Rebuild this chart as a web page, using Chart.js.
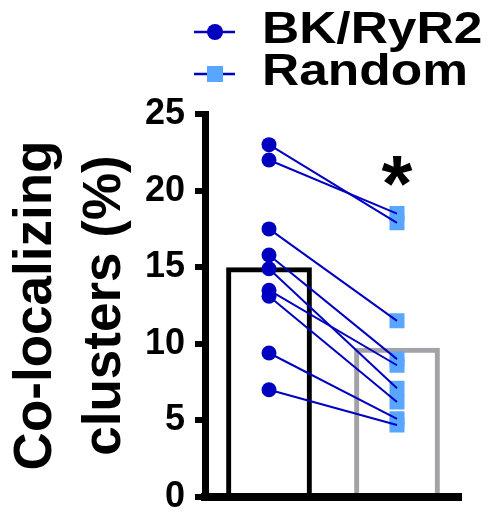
<!DOCTYPE html>
<html>
<head>
<meta charset="utf-8">
<script src="https://cdn.jsdelivr.net/npm/chart.js@4.4.0/dist/chart.umd.min.js"></script>
<style>
  html, body { margin: 0; padding: 0; background: #fff; }
</style>
</head>
<body>
<canvas id="chart" width="492" height="515"></canvas>
<script>
// ---------------- data ----------------
var groups = ['BK/RyR2', 'Random'];
var barMeans = [15.0, 9.75];
// paired cells: bkValues[i] is joined to randomValues[i]
var bkValues = [23.0, 22.0, 17.5, 15.8, 14.9, 13.5, 13.1, 9.4, 7.0];
var randomValues = [17.9, 18.5, 11.5, 9.0, 7.1, 8.6, 6.2, 5.1, 4.7];
var yTicks = [0, 5, 10, 15, 20, 25];
var yTitle = ['Co-localizing', 'clusters (%)'];
var sigMark = '*';
var sigLevel = 21.3;

// ---------------- styles ----------------
var FONT = '"Liberation Sans", Arial, Helvetica, sans-serif';
var DARK_BLUE = '#0000c0';
var LIGHT_BLUE = '#58a6ff';
var GREY = '#a3a3a7';

var datasets = [];

datasets.push({
  type: 'bar',
  label: 'mean',
  data: barMeans,
  backgroundColor: 'rgba(255,255,255,0)',
  borderColor: ['#000000', GREY],
  borderWidth: 5,
  borderSkipped: 'bottom',
  barPercentage: 0.67,
  categoryPercentage: 1,
  order: 4
});

// one line per pair
for (var i = 0; i < bkValues.length; i++) {
  datasets.push({
    type: 'line',
    label: 'pair' + i,
    data: [{x: groups[0], y: bkValues[i]}, {x: groups[1], y: randomValues[i]}],
    borderColor: DARK_BLUE,
    borderWidth: 2,
    pointRadius: 0,
    fill: false,
    order: 2
  });
}

datasets.push({
  type: 'line',
  label: groups[1],
  data: randomValues.map(function(v) { return {x: groups[1], y: v}; }),
  showLine: false,
  pointStyle: 'rect',
  pointRadius: 10.6,
  pointBackgroundColor: LIGHT_BLUE,
  pointBorderWidth: 0,
  order: 3
});

datasets.push({
  type: 'line',
  label: groups[0],
  data: bkValues.map(function(v) { return {x: groups[0], y: v}; }),
  showLine: false,
  pointStyle: 'circle',
  pointRadius: 7.5,
  pointBackgroundColor: DARK_BLUE,
  pointBorderWidth: 0,
  order: 1
});

// legend + star, drawn on top
var extras = {
  id: 'extras',
  afterDraw: function(chart) {
    var ctx = chart.ctx;
    var xs = chart.scales.x, ys = chart.scales.y;

    // significance star
    ctx.save();
    ctx.fillStyle = '#000';
    ctx.font = 'bold 100px ' + FONT;
    var m = ctx.measureText(sigMark);
    var w = m.actualBoundingBoxLeft + m.actualBoundingBoxRight;
    var size = 100 * 31 / w;
    ctx.font = 'bold ' + size + 'px ' + FONT;
    m = ctx.measureText(sigMark);
    var cx = xs.getPixelForValue(1), cy = ys.getPixelForValue(sigLevel);
    var gx = cx - (m.actualBoundingBoxRight - m.actualBoundingBoxLeft) / 2;
    var gy = cy + (m.actualBoundingBoxAscent - m.actualBoundingBoxDescent) / 2;
    ctx.textBaseline = 'alphabetic';
    ctx.textAlign = 'left';
    ctx.fillText(sigMark, gx, gy);
    ctx.restore();

    // legend
    var rows = [
      {text: groups[0], y: 32, base: 43, style: 'circle'},
      {text: groups[1], y: 74, base: 85, style: 'rect'}
    ];
    rows.forEach(function(r) {
      ctx.save();
      ctx.strokeStyle = DARK_BLUE;
      ctx.lineWidth = 2.5;
      ctx.beginPath();
      ctx.moveTo(194, r.y);
      ctx.lineTo(235, r.y);
      ctx.stroke();
      if (r.style === 'circle') {
        ctx.fillStyle = DARK_BLUE;
        ctx.beginPath();
        ctx.arc(215, r.y, 8, 0, Math.PI * 2);
        ctx.fill();
      } else {
        ctx.fillStyle = LIGHT_BLUE;
        ctx.fillRect(207, r.y - 8, 16, 16);
      }
      ctx.fillStyle = '#000';
      ctx.font = 'bold 44px ' + FONT;
      ctx.textBaseline = 'alphabetic';
      ctx.translate(262, r.base);
      ctx.scale(1.17, 1);
      ctx.fillText(r.text, 0, 0);
      ctx.restore();
    });
  }
};

var chart = new Chart(document.getElementById('chart'), {
  type: 'bar',
  data: { labels: groups, datasets: datasets },
  options: {
    responsive: false,
    animation: false,
    layout: { padding: { top: 114, bottom: 18, left: 0, right: 31 } },
    plugins: { legend: { display: false }, tooltip: { enabled: false } },
    scales: {
      x: {
        afterFit: function(s) { s.height = 0; },
        ticks: { display: false },
        grid: { display: false, drawTicks: false },
        border: { display: true, color: '#000', width: 8, z: 1 }
      },
      y: {
        min: 0,
        max: 25,
        afterFit: function(s) { s.width = 205; s.paddingBottom = 0; s.paddingTop = 0; },
        afterBuildTicks: function(s) { s.ticks = yTicks.map(function(v) { return {value: v}; }); },
        ticks: { color: '#000', padding: 10, font: { family: FONT, size: 36, weight: 'bold', lineHeight: 0.6 } },
        grid: { drawOnChartArea: false, color: '#000', tickLength: 10, tickWidth: 6, lineWidth: 6 },
        border: { color: '#000', width: 7 },
        title: {
          display: true,
          text: yTitle,
          color: '#000',
          padding: { top: 2, bottom: 0 },
          font: { family: FONT, size: 53, weight: 'bold', lineHeight: 1.3 }
        }
      }
    }
  },
  plugins: [extras]
});
</script>
</body>
</html>
